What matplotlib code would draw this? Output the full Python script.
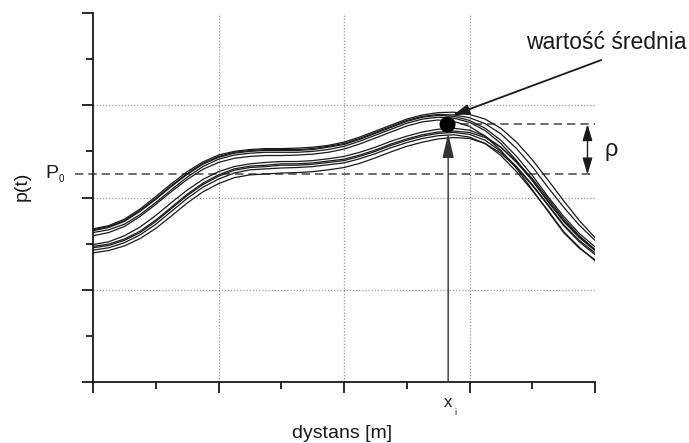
import matplotlib
matplotlib.use("Agg")
import matplotlib.pyplot as plt
from matplotlib.ticker import MultipleLocator
import matplotlib.transforms as mtransforms

plt.rcParams['font.family'] = ['Liberation Sans', 'DejaVu Sans']

# distance samples (shared by all realisations), step 0.25
dist = [0, 0.25, 0.5, 0.75, 1, 1.25, 1.5, 1.75, 2, 2.25, 2.5, 2.75, 3, 3.25, 3.5, 3.75,
        4, 4.25, 4.5, 4.75, 5, 5.25, 5.5, 5.75, 6, 6.25, 6.5, 6.75, 7, 7.25, 7.5, 7.75, 8]

# realisations of p(t) - upper group
u1 = [3.32, 3.39, 3.53, 3.75, 4.02, 4.30, 4.56, 4.77, 4.92, 5.00, 5.04, 5.06, 5.06, 5.07, 5.09, 5.13,
      5.20, 5.31, 5.44, 5.57, 5.70, 5.79, 5.84, 5.85, 5.80, 5.70, 5.50, 5.20, 4.82, 4.38, 3.93, 3.50, 3.13]
u2 = [3.30, 3.37, 3.50, 3.72, 3.98, 4.26, 4.52, 4.74, 4.89, 4.98, 5.02, 5.04, 5.04, 5.04, 5.06, 5.11,
      5.17, 5.28, 5.41, 5.54, 5.67, 5.76, 5.80, 5.79, 5.73, 5.60, 5.38, 5.06, 4.67, 4.22, 3.79, 3.40, 3.07]
u3 = [3.28, 3.35, 3.48, 3.70, 3.96, 4.24, 4.50, 4.72, 4.87, 4.96, 5.00, 5.02, 5.02, 5.02, 5.04, 5.09,
      5.15, 5.26, 5.39, 5.52, 5.65, 5.74, 5.78, 5.76, 5.67, 5.50, 5.24, 4.89, 4.48, 4.02, 3.59, 3.22, 2.93]
u4 = [3.24, 3.30, 3.42, 3.63, 3.89, 4.17, 4.44, 4.67, 4.83, 4.92, 4.96, 4.98, 4.98, 4.98, 5.00, 5.04,
      5.11, 5.22, 5.35, 5.48, 5.61, 5.70, 5.74, 5.72, 5.63, 5.45, 5.17, 4.80, 4.37, 3.91, 3.48, 3.13, 2.85]
u5 = [3.17, 3.24, 3.37, 3.59, 3.85, 4.13, 4.39, 4.61, 4.76, 4.85, 4.89, 4.91, 4.91, 4.92, 4.94, 4.98,
      5.05, 5.16, 5.29, 5.42, 5.55, 5.64, 5.68, 5.65, 5.54, 5.33, 5.02, 4.63, 4.17, 3.70, 3.24, 2.90, 2.65]
# lower group
l1 = [2.98, 3.04, 3.17, 3.36, 3.61, 3.89, 4.16, 4.39, 4.56, 4.67, 4.73, 4.76, 4.78, 4.78, 4.80, 4.84,
      4.89, 4.98, 5.09, 5.22, 5.33, 5.42, 5.48, 5.50, 5.46, 5.33, 5.09, 4.76, 4.37, 3.93, 3.50, 3.15, 2.87]
l2 = [2.94, 2.99, 3.10, 3.27, 3.51, 3.79, 4.07, 4.31, 4.49, 4.62, 4.68, 4.70, 4.73, 4.73, 4.75, 4.79,
      4.83, 4.92, 5.03, 5.16, 5.27, 5.36, 5.42, 5.44, 5.41, 5.30, 5.09, 4.78, 4.41, 3.98, 3.54, 3.17, 2.87]
l3 = [2.91, 2.96, 3.07, 3.24, 3.48, 3.76, 4.04, 4.28, 4.46, 4.59, 4.65, 4.67, 4.70, 4.70, 4.72, 4.76,
      4.80, 4.89, 5.00, 5.13, 5.24, 5.33, 5.39, 5.41, 5.37, 5.24, 5.00, 4.67, 4.28, 3.85, 3.41, 3.07, 2.80]
l4 = [2.86, 2.91, 3.02, 3.19, 3.42, 3.70, 3.98, 4.22, 4.40, 4.53, 4.60, 4.62, 4.64, 4.65, 4.67, 4.71,
      4.75, 4.84, 4.95, 5.08, 5.19, 5.28, 5.34, 5.36, 5.31, 5.17, 4.91, 4.56, 4.15, 3.72, 3.26, 2.92, 2.63]
l5 = [2.80, 2.85, 2.95, 3.11, 3.33, 3.60, 3.88, 4.12, 4.30, 4.43, 4.49, 4.51, 4.53, 4.54, 4.56, 4.60,
      4.65, 4.74, 4.86, 4.99, 5.11, 5.20, 5.27, 5.30, 5.28, 5.17, 4.96, 4.65, 4.26, 3.83, 3.39, 3.04, 2.76]
realisations = [u1, u2, u3, u4, u5, l1, l2, l3, l4, l5]

p0 = 4.5          # reference level P0
x_i = 5.64        # location of the mean value
p_mean = 5.59     # mean value

ink = '#1a1a1a'

fig = plt.figure(figsize=(6.89, 4.43), dpi=100)
ax = fig.add_axes([93 / 689, 1 - 382 / 443, 502 / 689, 369 / 443])
ax.set_xlim(0, 8)
ax.set_ylim(0, 8)

for spine in ['top', 'right']:
    ax.spines[spine].set_visible(False)
for spine in ['left', 'bottom']:
    ax.spines[spine].set_linewidth(1.3)
    ax.spines[spine].set_color(ink)

ax.xaxis.set_major_locator(MultipleLocator(2))
ax.xaxis.set_minor_locator(MultipleLocator(1))
ax.yaxis.set_major_locator(MultipleLocator(2))
ax.yaxis.set_minor_locator(MultipleLocator(1))
ax.tick_params(which='major', length=8, width=1.3, direction='out', color=ink,
               labelleft=False, labelbottom=False)
ax.tick_params(which='minor', length=5, width=1.3, direction='out', color=ink)

# dotted grid at interior major ticks
for g in [2, 4, 6]:
    ax.axvline(g, color='#9a9a9a', lw=0.9, ls=(0, (1, 1.5)), zorder=1)
    ax.axhline(g, color='#9a9a9a', lw=0.9, ls=(0, (1, 1.5)), zorder=1)

for r in realisations:
    ax.plot(dist, r, color=ink, lw=0.9, zorder=3)

# P0 dashed level (extends left of axis)
trans = mtransforms.blended_transform_factory(ax.transAxes, ax.transData)
ax.plot([-0.036, 1.0], [p0, p0], transform=trans, color='#555555', lw=1.2,
        ls=(0, (5, 3)), clip_on=False, zorder=2)
# mean level dashed
ax.plot([x_i, 8], [p_mean, p_mean], color='#555555', lw=1.2, ls=(0, (5, 3)), zorder=2)

# mean point
ax.plot([x_i], [p_mean], 'o', color='black', ms=10.5, zorder=5)

# vertical arrow from x_i
ax.annotate('', xy=(x_i + 0.02, 5.39), xytext=(x_i + 0.02, 0),
            arrowprops=dict(arrowstyle='-|>,head_length=1.5,head_width=0.35',
                            color='#333333', lw=1.0, shrinkA=0, shrinkB=0), zorder=4)

# rho double arrow
ax.annotate('', xy=(7.88, p_mean), xytext=(7.88, p0),
            arrowprops=dict(arrowstyle='<|-|>,head_length=1.0,head_width=0.3',
                            color=ink, lw=1.0, shrinkA=0, shrinkB=0), zorder=4)
ax.text(8.26, 5.02, 'ρ', fontsize=17, ha='center', va='center', color=ink)

# annotation of mean value
ax.annotate('', xy=(5.73, 5.78), xytext=(8.10, 6.98),
            arrowprops=dict(arrowstyle='-|>,head_length=1.0,head_width=0.3',
                            color=ink, lw=1.3, shrinkA=0, shrinkB=0),
            annotation_clip=False, zorder=6)
ax.text(8.18, 7.37, 'wartość średnia', fontsize=16.5, ha='center', va='center', color=ink)

# P0 label
ax.text(-0.65, 4.43, 'P', fontsize=14, ha='center', va='baseline', color=ink)
ax.text(-0.51, 4.33, '0', fontsize=7, ha='center', va='baseline', color=ink)

# x_i label
ax.text(x_i + 0.02, -0.54, 'x', fontsize=12, ha='center', va='baseline', color=ink)
ax.text(x_i + 0.13, -0.72, 'i', fontsize=6.5, ha='center', va='baseline', color=ink)

# axis labels
fig.text(22.5 / 689, 1 - 186.5 / 443, 'p(t)', rotation=90, fontsize=14,
         ha='center', va='center', color=ink)
fig.text(342 / 689, 1 - 434 / 443, 'dystans [m]', fontsize=14,
         ha='center', va='center', color=ink)

fig.savefig('out.png', dpi=100)
